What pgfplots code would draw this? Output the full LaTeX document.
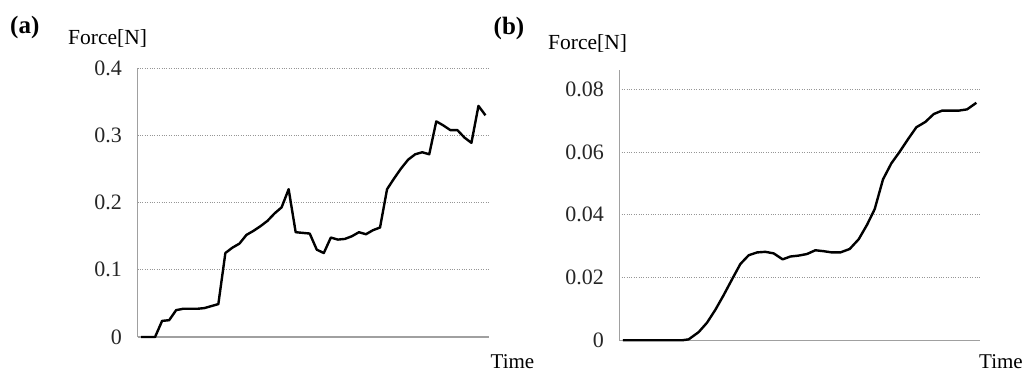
\documentclass[border=0pt]{standalone}
\usepackage{pgfplots}
\pgfplotsset{compat=1.18}
\usepackage{fontspec}
\setmainfont{Liberation Serif}
\definecolor{axgray}{RGB}{160,160,160}
\definecolor{gridgray}{RGB}{150,150,150}
\begin{document}
\begin{tikzpicture}[x=1pt,y=1pt]
\path (0,0) rectangle (1023,374);
\pgfplotsset{
  myax/.style={
    scale only axis,
    axis x line*=bottom, axis y line*=left,
    axis line style={axgray, line width=1.2pt, -},
    xtick=\empty,
    major tick length=0pt,
    ymajorgrids,
    grid style={gridgray, dotted, line width=0.9pt},
    ymin=0,
    scaled y ticks=false,
    /pgf/number format/assume math mode=true,
    /pgf/number format/fixed,
    /pgf/number format/precision=2,
    yticklabel style={font=\fontsize{22}{24}\selectfont, color=black!85, xshift=-12pt},
    clip=false,
  }
}
\begin{axis}[myax, at={(137.5pt,37pt)}, anchor=south west,
  width=351.5pt, height=268.7pt,
  xmin=0, xmax=50, ymax=0.4,
  ytick={0,0.1,0.2,0.3,0.4}]
\addplot[black, line width=2.4pt, line join=round] coordinates {
(0.5,0) (1.5,0) (2.5,0) (3.5,0.024) (4.5,0.025) (5.5,0.040) (6.5,0.042) (7.5,0.042)
(8.5,0.042) (9.5,0.043) (10.5,0.046) (11.5,0.049) (12.5,0.125) (13.5,0.133) (14.5,0.139)
(15.5,0.152) (16.5,0.158) (17.5,0.165) (18.5,0.173) (19.5,0.184) (20.5,0.193) (21.5,0.220)
(22.5,0.156) (23.5,0.155) (24.5,0.154) (25.5,0.130) (26.5,0.125) (27.5,0.148) (28.5,0.145)
(29.5,0.146) (30.5,0.150) (31.5,0.156) (32.5,0.153) (33.5,0.159) (34.5,0.163) (35.5,0.220)
(36.5,0.236) (37.5,0.251) (38.5,0.264) (39.5,0.272) (40.5,0.275) (41.5,0.272) (42.5,0.321)
(43.5,0.315) (44.5,0.308) (45.5,0.308) (46.5,0.297) (47.5,0.289) (48.5,0.344) (49.5,0.330)
};
\end{axis}
\begin{axis}[myax, at={(619.3pt,33.7pt)}, anchor=south west,
  width=360.4pt, height=270.3pt,
  xmin=0, xmax=43.24, ymax=0.08615,
  ytick={0,0.02,0.04,0.06,0.08}]
\addplot[black, line width=2.4pt, line join=round] coordinates {
(0.44,0) (7.52,0) (8.32,0.0003) (9.52,0.0026) (10.52,0.0056) (11.52,0.0097) (12.52,0.0144)
(13.52,0.0194) (14.52,0.0243) (15.52,0.0271) (16.52,0.0280) (17.52,0.0282) (18.52,0.0277)
(19.6,0.0258) (20.52,0.0267) (21.52,0.0270) (22.52,0.0275) (23.52,0.0287) (24.52,0.0284)
(25.52,0.0280) (26.52,0.0280) (27.64,0.0291) (28.72,0.0322) (29.72,0.0368) (30.64,0.0418)
(31.64,0.0513) (32.64,0.0564) (33.64,0.0601) (34.64,0.0641) (35.64,0.0679) (36.72,0.0696)
(37.72,0.0721) (38.72,0.0732) (39.72,0.0732) (40.72,0.0732) (41.72,0.0736) (42.84,0.0757)
};
\end{axis}
\node[anchor=base west, inner sep=0pt, font=\fontsize{25}{27}\selectfont\bfseries] at (10,340.7) {(a)};
\node[anchor=base west, inner sep=0pt, font=\fontsize{25}{27}\selectfont\bfseries] at (493.5,339) {(b)};
\node[anchor=base west, inner sep=0pt, font=\fontsize{21.5}{23}\selectfont] at (68,329) {Force[N]};
\node[anchor=base west, inner sep=0pt, font=\fontsize{21.5}{23}\selectfont] at (548,324.7) {Force[N]};
\node[anchor=base west, inner sep=0pt, font=\fontsize{21}{23}\selectfont] at (490.5,5) {Time};
\node[anchor=base west, inner sep=0pt, font=\fontsize{21}{23}\selectfont] at (979,5) {Time};
\end{tikzpicture}
\end{document}
